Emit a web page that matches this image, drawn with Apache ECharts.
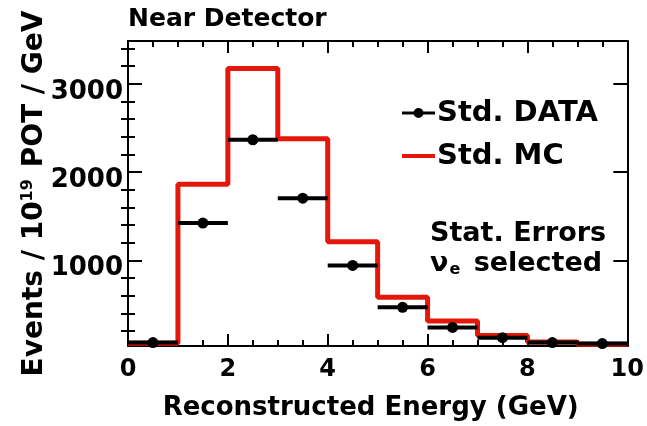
<!DOCTYPE html>
<html>
<head>
<meta charset="utf-8">
<script src="https://cdn.jsdelivr.net/npm/echarts@6/dist/echarts.min.js"></script>
</head>
<body style="margin:0;background:#fff">
<div id="container" style="width:647px;height:426px"></div>
<script>
// bin edges (GeV) and contents per bin
var binEdges = [0, 1, 2, 3, 4, 5, 6, 7, 8, 9, 10];
var mcValues = [62, 1862, 3175, 2378, 1210, 581, 314, 149, 76, 50];
var dataValues = [69, 1423, 2367, 1705, 943, 468, 240, 124, 69, 58];
var yMajorTicks = [1000, 2000, 3000];
var yMinorTicks = [200, 400, 600, 800, 1200, 1400, 1600, 1800, 2200, 2400, 2600, 2800, 3200, 3400];

var FONT = 'DejaVu Sans';
var yMin = 30, yMax = 3486;

// step line needs a point at every edge, last value repeated at the end
var mcStep = [];
for (var i = 0; i < mcValues.length; i++) mcStep.push([binEdges[i], mcValues[i]]);
mcStep.push([binEdges[binEdges.length - 1], mcValues[mcValues.length - 1]]);

var dataPts = [];
for (var i = 0; i < dataValues.length; i++) {
    dataPts.push([(binEdges[i] + binEdges[i + 1]) / 2, dataValues[i], binEdges[i], binEdges[i + 1]]);
}

function yAxisBase(pos) {
    return {
        type: 'value', position: pos, min: yMin, max: yMax,
        splitLine: {show: false},
        axisLine: {show: true, onZero: false, lineStyle: {color: '#000', width: 2}},
        axisTick: {show: true, inside: true, length: 14, customValues: yMajorTicks, lineStyle: {color: '#000', width: 2}},
        axisLabel: {show: false}
    };
}
function yMinorAxis(pos) {
    return {
        type: 'value', position: pos, min: yMin, max: yMax,
        splitLine: {show: false},
        axisLine: {show: false},
        axisTick: {show: true, inside: true, length: 7, customValues: yMinorTicks, lineStyle: {color: '#000', width: 2}},
        axisLabel: {show: false}
    };
}

var yLeft = yAxisBase('left');
yLeft.axisLabel = {
    show: true, customValues: yMajorTicks, margin: 5,
    formatter: function (v) { return '{n|' + v + '}'; },
    rich: {n: {fontFamily: FONT, fontWeight: 'bold', fontSize: 26, color: '#000', padding: [16, 0, 0, 0]}}
};
yLeft.name = 'Events / 10{sup|19} POT / GeV';
yLeft.nameLocation = 'middle';
yLeft.nameGap = 78;
yLeft.nameMoveOverlap = false;
yLeft.nameTextStyle = {
    fontFamily: FONT, fontWeight: 'bold', fontSize: 28, color: '#000',
    rich: {sup: {fontFamily: FONT, fontWeight: 'bold', fontSize: 16, color: '#000', verticalAlign: 'top', padding: [0, 2, 14, 0]}}
};

var myChart = echarts.init(document.getElementById('container'));
var option = {
    animation: false,
    backgroundColor: '#fff',
    title: {
        text: 'Near Detector', left: 128, top: 7, padding: 0,
        textStyle: {fontFamily: FONT, fontWeight: 'bold', fontSize: 25, color: '#000'}
    },
    grid: {left: 128, right: 15, top: 41, bottom: 70.5},
    legend: {
        orient: 'vertical', left: 397, top: 91,
        itemWidth: 33, itemHeight: 10, itemGap: 9,
        textStyle: {fontFamily: FONT, fontWeight: 'bold', fontSize: 29, color: '#000', lineHeight: 34, padding: [0, 0, 0, -3]},
        data: [
            {name: 'Std. DATA', icon: 'path://M0,3.5H33V6.5H0Z M11.5,5A5,5 0 1,1 21.5,5A5,5 0 1,1 11.5,5Z', itemStyle: {color: '#000'}},
            {name: 'Std. MC', icon: 'path://M0,3H33V7H0Z', itemStyle: {color: '#e3170a'}}
        ]
    },
    graphic: [
        {type: 'text', left: 430, top: 220, style: {text: 'Stat. Errors', fontFamily: FONT, fontWeight: 'bold', fontSize: 27, fill: '#000'}},
        {type: 'text', left: 430, top: 250, style: {
            text: 'ν{sub|e} selected', fontFamily: FONT, fontWeight: 'bold', fontSize: 27, fill: '#000',
            rich: {sub: {fontFamily: FONT, fontWeight: 'bold', fontSize: 16, fill: '#000', verticalAlign: 'bottom', padding: [12, 4, 0, 1]}}
        }}
    ],
    xAxis: [
        {
            type: 'value', position: 'bottom', min: 0, max: 10, interval: 2,
            splitLine: {show: false},
            axisLine: {show: true, onZero: false, lineStyle: {color: '#000', width: 2}},
            axisTick: {show: true, inside: true, length: 12, lineStyle: {color: '#000', width: 2}},
            minorTick: {show: true, splitNumber: 4, length: 6, lineStyle: {color: '#000', width: 2}},
            axisLabel: {margin: 12, fontFamily: FONT, fontWeight: 'bold', fontSize: 24, color: '#000'},
            name: 'Reconstructed Energy (GeV)', nameLocation: 'middle', nameGap: 49,
            nameTextStyle: {fontFamily: FONT, fontWeight: 'bold', fontSize: 26, color: '#000', padding: [0, 14, 0, 0]}
        },
        {
            type: 'value', position: 'top', min: 0, max: 10, interval: 2,
            splitLine: {show: false},
            axisLine: {show: true, onZero: false, lineStyle: {color: '#000', width: 2}},
            axisTick: {show: true, inside: true, length: 12, lineStyle: {color: '#000', width: 2}},
            minorTick: {show: true, splitNumber: 4, length: 6, lineStyle: {color: '#000', width: 2}},
            axisLabel: {show: false}
        }
    ],
    yAxis: [yLeft, yMinorAxis('left'), yAxisBase('right'), yMinorAxis('right')],
    series: [
        {
            name: 'Std. MC', type: 'line', step: 'end', data: mcStep,
            symbol: 'none', z: 2,
            lineStyle: {color: '#e3170a', width: 5},
            itemStyle: {color: '#e3170a'}
        },
        {
            name: 'Std. DATA', type: 'custom', data: dataPts, z: 3,
            itemStyle: {color: '#000'},
            renderItem: function (params, api) {
                var y = api.value(1);
                var l = api.coord([api.value(2), y]);
                var r = api.coord([api.value(3), y]);
                var c = api.coord([api.value(0), y]);
                return {
                    type: 'group',
                    children: [
                        {type: 'line', shape: {x1: l[0], y1: l[1], x2: r[0], y2: r[1]}, style: {stroke: '#000', lineWidth: 4}},
                        {type: 'circle', shape: {cx: c[0], cy: c[1], r: 5.5}, style: {fill: '#000'}}
                    ]
                };
            }
        }
    ]
};
myChart.setOption(option);
</script>
</body>
</html>
